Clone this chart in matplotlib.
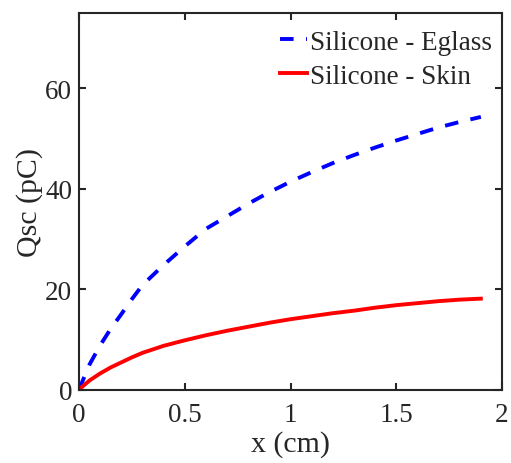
import numpy as np
import matplotlib
matplotlib.use("Agg")
import matplotlib.pyplot as plt

# values
x_cm = [0.0, 0.05, 0.1, 0.15, 0.2, 0.25, 0.3, 0.4, 0.5, 0.6, 0.7, 0.8, 0.9, 1.0,
        1.1, 1.2, 1.3, 1.4, 1.5, 1.6, 1.7, 1.8, 1.9]
q_eglass = [0.0, 5.0, 8.8, 12.1, 15.0, 18.0, 20.8, 24.8, 28.5, 32.0, 34.5, 37.0,
            39.3, 41.4, 43.3, 45.1, 46.7, 48.2, 49.6, 50.9, 52.2, 53.3, 54.3]
q_skin = [0.0, 1.8, 3.2, 4.4, 5.4, 6.4, 7.3, 8.7, 9.8, 10.8, 11.7, 12.5,
          13.3, 14.0, 14.6, 15.2, 15.7, 16.3, 16.8, 17.2, 17.6, 17.9, 18.1]
series_names = ["Silicone - Eglass", "Silicone - Skin"]
x_ticks = [0, 0.5, 1, 1.5, 2]
x_tick_labels = ["0", "0.5", "1", "1.5", "2"]
y_ticks = [0, 20, 40, 60]

plt.rcParams["font.family"] = ["Liberation Serif", "DejaVu Serif"]
dark = "#262626"

fig = plt.figure(figsize=(5.11, 4.64), dpi=100)
ax = fig.add_axes([79 / 511, (464 - 390.5) / 464, 423 / 511, 376.5 / 464])

ax.plot(x_cm, q_eglass, color="#0000ff", lw=2.8, ls=(0, (3.5, 3.2)),
        label=series_names[0])
ax.plot(x_cm, q_skin, color="#ff0000", lw=2.8, label=series_names[1])

ax.set_xlim(0, 2)
ax.set_ylim(0, 75)
ax.set_xticks(x_ticks)
ax.set_xticklabels(x_tick_labels)
ax.set_yticks(y_ticks)

for s in ax.spines.values():
    s.set_color(dark)
    s.set_linewidth(1.5)
ax.tick_params(direction="in", top=True, right=True, length=5, width=1.5,
               colors=dark, labelsize=19.5)
ax.tick_params(axis="x", pad=9)
ax.tick_params(axis="y", pad=5)

ax.set_xlabel("x (cm)", fontsize=21.5, color=dark)
ax.set_ylabel("Qsc (pC)", fontsize=21.5, color=dark)
ax.xaxis.set_label_coords(0.5, -0.108)
ax.yaxis.set_label_coords(-0.118, 0.5)
ax.yaxis.label.set_va("center")

leg = ax.legend(loc="upper left", frameon=False, fontsize=19.5,
                handlelength=1.0, handletextpad=0.12, labelspacing=0.33,
                borderpad=0, borderaxespad=0, bbox_to_anchor=(0.475, 0.955))
for t in leg.get_texts():
    t.set_color(dark)

fig.savefig("out.png", dpi=100)
